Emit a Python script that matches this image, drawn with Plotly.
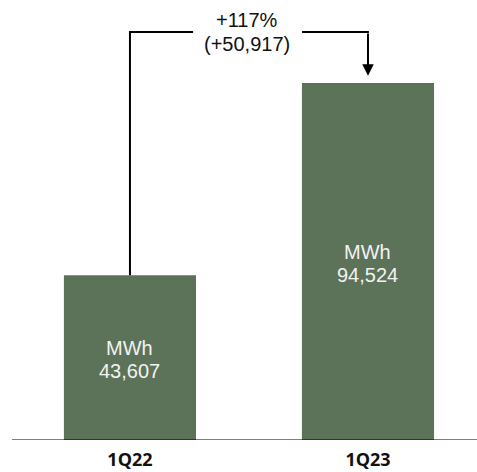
import plotly.graph_objects as go

# Quarterly energy volumes
categories = ["1Q22", "1Q23"]
values = [43607, 94524]
unit = "MWh"

bar_color = "#5D7359"
label_color = "#F2F2F2"
text_font = "Liberation Sans"
tick_font = "Open Sans"

x_pos = list(range(len(categories)))
first, last = values[0], values[-1]
diff = last - first
pct = (last / first - 1) * 100

y_max = 116500
bracket_y = 108000      # height of the comparison bracket
arrow_gap = 1900        # space between arrow tip and bar top
gap_left, gap_right = 0.265, 0.723  # opening in the bracket for the label

fig = go.Figure()
fig.add_trace(go.Bar(
    x=x_pos, y=values, width=0.555,
    marker=dict(color=bar_color, line=dict(width=0)),
    hoverinfo="skip",
))

annotations = []
# labels inside bars: unit on first line, value on second
for xp, v in zip(x_pos, values):
    annotations.append(dict(x=xp, y=v / 2, text=unit, showarrow=False,
                            xref="x", yref="y", yshift=10,
                            font=dict(family=text_font, size=20, color=label_color)))
    annotations.append(dict(x=xp, y=v / 2, text=f"{v:,}", showarrow=False,
                            xref="x", yref="y", yshift=-13,
                            font=dict(family=text_font, size=20, color=label_color)))

# change label in the bracket opening
mid_x = (x_pos[0] + x_pos[-1]) / 2
annotations.append(dict(x=mid_x, y=bracket_y, text=f"+{pct:.0f}%", showarrow=False,
                        xref="x", yref="y", yshift=12, xshift=-2,
                        font=dict(family=text_font, size=20, color="#111111")))
annotations.append(dict(x=mid_x, y=bracket_y, text=f"(+{diff:,})", showarrow=False,
                        xref="x", yref="y", yshift=-11.5, xshift=-2,
                        font=dict(family=text_font, size=20, color="#111111")))

# arrow pointing down to the later bar
annotations.append(dict(x=x_pos[-1], y=last + arrow_gap, ax=x_pos[-1], ay=bracket_y,
                        xref="x", yref="y", axref="x", ayref="y", text="",
                        showarrow=True, arrowhead=2, arrowsize=1.15, arrowwidth=2,
                        arrowcolor="#000000", standoff=0))

line_style = dict(color="#000000", width=2)
shapes = [
    dict(type="line", xref="x", yref="y", x0=x_pos[0], x1=x_pos[0],
         y0=first, y1=bracket_y, line=line_style),
    dict(type="line", xref="x", yref="y", x0=x_pos[0] - 0.004, x1=gap_left,
         y0=bracket_y, y1=bracket_y, line=line_style),
    dict(type="line", xref="x", yref="y", x0=gap_right, x1=x_pos[-1] + 0.004,
         y0=bracket_y, y1=bracket_y, line=line_style),
    # baseline
    dict(type="line", xref="paper", yref="y", x0=0.025, x1=1, y0=0, y1=0,
         line=dict(color="#000000", width=1)),
]

fig.update_layout(
    width=477, height=472,
    margin=dict(l=0, r=0, t=0, b=32),
    paper_bgcolor="white", plot_bgcolor="white",
    showlegend=False,
    annotations=annotations,
    shapes=shapes,
    xaxis=dict(range=[-0.546, 1.458], tickvals=x_pos, ticktext=categories,
               showgrid=False, zeroline=False, showline=False, ticks="",
               ticklabelstandoff=7,
               tickfont=dict(family=tick_font, size=18, color="#111111", weight="bold"),
               automargin=False, fixedrange=True),
    yaxis=dict(range=[0, y_max], visible=False, automargin=False, fixedrange=True),
)

fig.write_html("out.html", config={"displayModeBar": False})
